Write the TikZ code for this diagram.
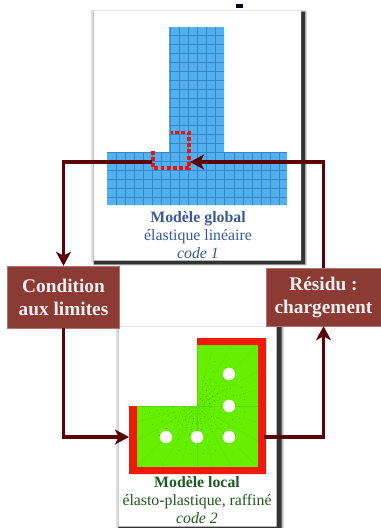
\documentclass[tikz,border=0pt]{standalone}
\usepackage{fontspec}
\setmainfont{Liberation Serif}
\usetikzlibrary{arrows.meta,calc,shapes.misc}
\definecolor{linkred}{HTML}{5A0206}
\definecolor{boxred}{HTML}{8B3B33}
\definecolor{meshblue}{HTML}{52B0EE}
\definecolor{gridblue}{HTML}{2B78C0}
\definecolor{dotred}{HTML}{EE1111}
\definecolor{barred}{HTML}{F01A0A}
\definecolor{meshgreen}{HTML}{66F000}
\definecolor{titleblue}{HTML}{39599A}
\definecolor{titlegreen}{HTML}{1E5A1E}
\tikzset{
  card/.style={shape=chamfered rectangle,chamfered rectangle xsep=3.5pt,chamfered rectangle ysep=3.5pt,fill=white,inner sep=0pt,outer sep=0pt},
  cardshadow/.style={card,fill=#1},
  linkbox/.style={fill=boxred,draw=boxred!70!white,line width=0.3pt,text=white!92!boxred,font=\fontsize{11}{13}\selectfont\bfseries,align=center,inner sep=0pt},
  link/.style={draw=linkred,line width=1.9pt},
  linkarrow/.style={link,-{Stealth[length=8pt,width=8.5pt,inset=2.2pt]}},
  caption/.style={align=center,inner sep=0pt,font=\fontsize{9}{10.2}\selectfont}
}
\begin{document}
\begin{tikzpicture}[x=0.02cm,y=-0.02cm]
  \useasboundingbox (0,0) rectangle (381,528);
  \fill[black!85!blue] (236,4) rectangle (243,8);

  \node[cardshadow=black!12,minimum width=212pt*0.5669,minimum height=254pt*0.5669] (shadowa) at (196.5,136.5) {};
  \node[cardshadow=black!25,minimum width=214pt*0.5669,minimum height=256pt*0.5669] (shadowb) at (200,138) {};
  \node[cardshadow=black!80,minimum width=212pt*0.5669,minimum height=254pt*0.5669] (shadowe) at (199.5,138) {};
  \node[card,minimum width=208pt*0.5669,minimum height=251pt*0.5669] (globalcard) at (197.5,135.5) {};

  \node[cardshadow=black!12,minimum width=163pt*0.5669,minimum height=203pt*0.5669] (shadowc) at (197,427) {};
  \node[cardshadow=black!25,minimum width=166pt*0.5669,minimum height=203pt*0.5669] (shadowd) at (201,428) {};
  \node[cardshadow=black!80,minimum width=164pt*0.5669,minimum height=203pt*0.5669] (shadowf) at (200,428) {};
  \node[card,minimum width=159pt*0.5669,minimum height=201pt*0.5669] (localcard) at (197.5,426.5) {};

  \begin{scope}
    \clip (169,27) -- (224,27) -- (224,152) -- (287,152) -- (287,205) -- (107,205) -- (107,152) -- (169,152) -- cycle;
    \fill[meshblue] (100,20) rectangle (290,210);
    \foreach \i in {0,...,18} \draw[gridblue!75!meshblue,line width=0.45pt] (100,{35+9*\i}) -- (290,{35+9*\i});
    \foreach \i in {0,...,18} \draw[gridblue!75!meshblue,line width=0.45pt] ({116+9.07*\i},20) -- ({116+9.07*\i},210);
  \end{scope}

  \draw[dotred,line width=1.9pt,dash pattern=on 2.2pt off 1.3pt] (153,151) -- (153,168) -- (189,168) -- (189,132.5) -- (171,132.5);

  \begin{scope}
    \clip (137,406) -- (197,406) -- (197,345) -- (258,345) -- (258,467) -- (137,467) -- cycle;
    \fill[meshgreen] (130,340) rectangle (265,470);
    \foreach \a in {-90,-75,...,180} \draw[meshgreen!90!black,line width=0.12pt] (197,406) -- ++(\a:110);
    \foreach \r/\n/\o in {8/12/0,13/16/11,18/20/5,24/22/9,30/24/3,38/22/13,48/18/7}
      \foreach \k in {1,...,\n}
        \fill[green!45!black] ($(197,406)+({\o-90+\k*270/\n}:\r)$) circle (0.2pt);
  \end{scope}
  \fill[barred] (197,338) -- (266,338) -- (266,474) -- (129,474) -- (129,406) -- (137,406) -- (137,467) -- (258,467) -- (258,345) -- (197,345) -- cycle;
  \foreach \x/\y in {166/437,197/437,229/437,229/406,229/374}
    \fill[white] (\x,\y) circle (6.2);

  \node[linkbox,minimum width=112pt*0.5669,minimum height=62pt*0.5669] (condition) at (63.5,297) {Condition\\aux limites};
  \node[linkbox,minimum width=115pt*0.5669,minimum height=58pt*0.5669] (residu) at (323.5,297) {Résidu :\\chargement};

  \coordinate (globalin) at (152,162);
  \coordinate (globalout) at (190,162);
  \coordinate (localin) at (129,437);
  \coordinate (localout) at (264,437);

  \draw[linkarrow] (globalin) -| (condition.north);
  \draw[linkarrow] (condition.south) |- (localin);
  \draw[linkarrow] (localout) -| (residu.south);
  \draw[linkarrow] (residu.north) |- (globalout);

  \node[caption,text=titleblue] (globaltext) at (198,235) {\textbf{Modèle global}\\élastique linéaire\\\textit{code 1}};
  \node[caption,text=titlegreen] (localtext) at (197,500) {\textbf{Modèle local}\\élasto-plastique, raffiné\\\textit{code 2}};
\end{tikzpicture}
\end{document}
